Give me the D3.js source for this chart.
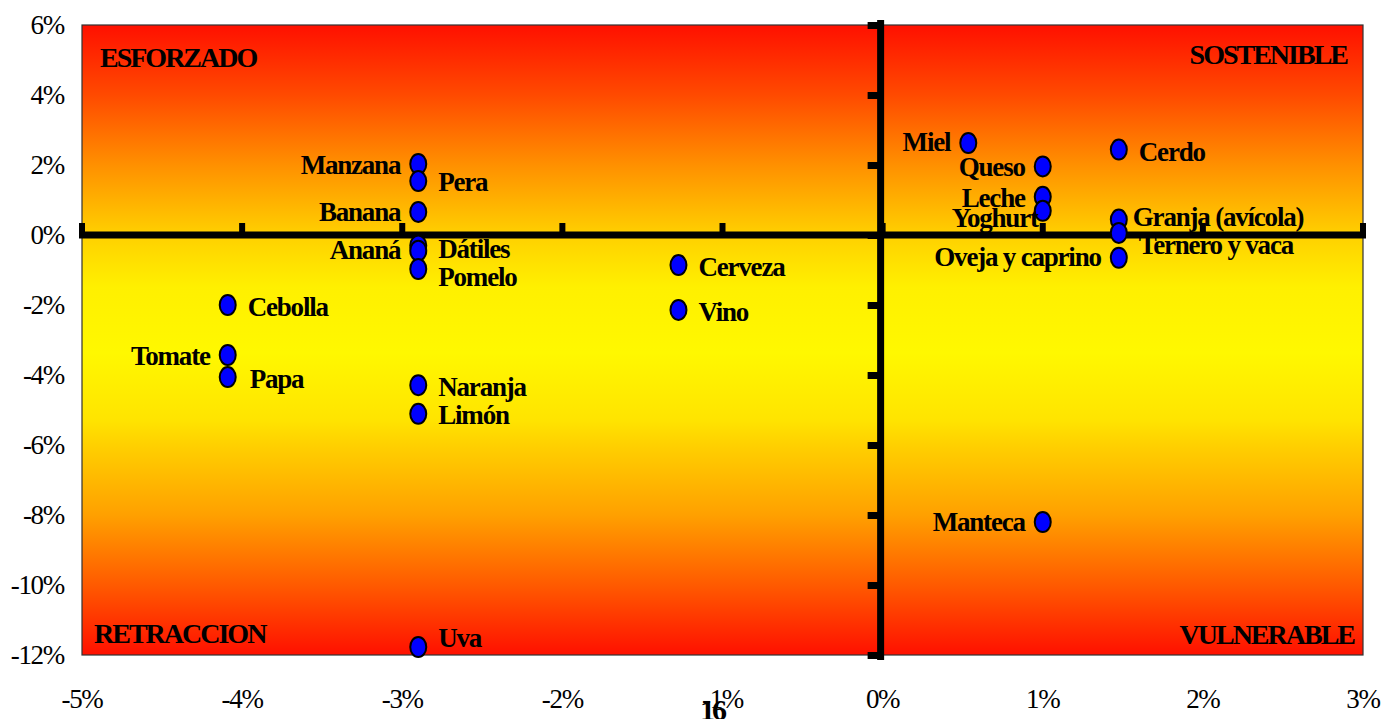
<!DOCTYPE html>
<html><head><meta charset="utf-8">
<script src="https://cdn.jsdelivr.net/npm/d3@7"></script>
<style>
html,body{margin:0;padding:0;background:#fff;}
svg{display:block;font-family:"Liberation Serif","Times New Roman",serif;}
</style></head>
<body>
<svg id="chart" width="1385" height="719"></svg>
<script>
// ---- data ----
const names = ["Manzana","Pera","Banana","Ananá","Dátiles","Pomelo","Cebolla","Tomate","Papa","Naranja","Limón","Uva","Cerveza","Vino","Miel","Queso","Leche","Yoghurt","Cerdo","Granja (avícola)","Ternero y vaca","Oveja y caprino","Manteca"];
const xValues = [-0.029,-0.029,-0.029,-0.029,-0.029,-0.029,-0.0409,-0.0409,-0.0409,-0.029,-0.029,-0.029,-0.01275,-0.01275,0.00535,0.01,0.01,0.01,0.01475,0.01475,0.01475,0.01475,0.01];
const yValues = [0.0203,0.0154,0.0066,-0.003,-0.0045,-0.0097,-0.02,-0.0343,-0.0406,-0.0429,-0.0511,-0.1177,-0.0086,-0.0214,0.0263,0.0196,0.0109,0.0069,0.0244,0.0044,0.0006,-0.0065,-0.082];
const xTicks = [-0.05,-0.04,-0.03,-0.02,-0.01,0,0.01,0.02,0.03];
const yTicks = [0.06,0.04,0.02,0,-0.02,-0.04,-0.06,-0.08,-0.10,-0.12];
const quadrantLabels = ["ESFORZADO","SOSTENIBLE","RETRACCION","VULNERABLE"];
const pageNumber = "16";

// ---- layout ----
const svg = d3.select("#chart");
const x = d3.scaleLinear().domain([-0.05,0.03]).range([82,1363]);
const y = d3.scaleLinear().domain([-0.12,0.06]).range([655,25]);
const fmt = d3.format(".0%");

// gradient background (red - yellow - red)
const defs = svg.append("defs");
const grad = defs.append("linearGradient").attr("id","bg").attr("x1",0).attr("y1",0).attr("x2",0).attr("y2",1);
[[0,"#ff1000"],[0.111,"#ff4a00"],[0.222,"#ff9000"],[0.333,"#ffd000"],[0.416,"#fff000"],
 [0.52,"#fff800"],[0.627,"#ffe400"],[0.667,"#ffd000"],[0.778,"#ffa000"],[0.889,"#ff5a00"],[1,"#ff1000"]]
 .forEach(s=>grad.append("stop").attr("offset",s[0]).attr("stop-color",s[1]));

svg.append("rect")
  .attr("x",x(-0.05)).attr("y",y(0.06))
  .attr("width",x(0.03)-x(-0.05)).attr("height",y(-0.12)-y(0.06))
  .attr("fill","url(#bg)").attr("stroke","#333").attr("stroke-width",1.2);

// quadrant labels
const qStyle = s => s.attr("font-weight","bold").attr("font-size","28px").attr("letter-spacing","-2px").attr("fill","#000");
svg.append("text").text(quadrantLabels[0]).attr("x",100).attr("y",y(0.06)+42).call(qStyle);
svg.append("text").text(quadrantLabels[1]).attr("x",x(0.03)-16).attr("y",y(0.06)+39).attr("text-anchor","end").call(qStyle);
svg.append("text").text(quadrantLabels[2]).attr("x",94).attr("y",y(-0.12)-12).call(qStyle);
svg.append("text").text(quadrantLabels[3]).attr("x",x(0.03)-9).attr("y",y(-0.12)-11).attr("text-anchor","end").call(qStyle);

// crossing axes
const x0 = x(0)-2, y0 = y(0);
svg.append("line").attr("x1",x(-0.05)-3).attr("x2",x(0.03)+3).attr("y1",y0).attr("y2",y0)
  .attr("stroke","#000").attr("stroke-width",7);
svg.selectAll(".xt").data(xTicks).enter().append("rect")
  .attr("x",d=>x(d)-3).attr("y",y0-12).attr("width",6).attr("height",14).attr("fill","#000");
svg.append("line").attr("x1",x0).attr("x2",x0).attr("y1",y(0.06)-5).attr("y2",y(-0.12)+5)
  .attr("stroke","#000").attr("stroke-width",7);
svg.selectAll(".yt").data(yTicks).enter().append("rect")
  .attr("x",x0-13).attr("y",d=>y(d)-3).attr("width",13).attr("height",7).attr("fill","#000");

// axis tick labels
svg.selectAll(".yl").data(yTicks).enter().append("text")
  .attr("x",64).attr("y",d=>y(d)+9).attr("text-anchor","end")
  .attr("font-size","27px").attr("letter-spacing","-1.3px").attr("fill","#000")
  .text(d=>fmt(d).replace("−","-"));
svg.selectAll(".xl").data(xTicks).enter().append("text")
  .attr("x",d=>x(d)).attr("y",708).attr("text-anchor","middle")
  .attr("font-size","27px").attr("letter-spacing","-1.3px").attr("fill","#000")
  .text(d=>fmt(d).replace("−","-"));

// page number (overlaps the -1% label, as in the original page)
svg.append("text").text(pageNumber).attr("x",700).attr("y",720)
  .attr("font-weight","bold").attr("font-size","30px").attr("letter-spacing","-3px").attr("fill","#000");

// points
const pts = names.map((n,i)=>({name:n,x:xValues[i],y:yValues[i]}));
svg.selectAll(".pt").data(pts).enter().append("ellipse")
  .attr("cx",d=>x(d.x)).attr("cy",d=>y(d.y)).attr("rx",8).attr("ry",10)
  .attr("fill","#0000ff").attr("stroke","#000").attr("stroke-width",2);

// label placement: [side, dx, dy]
const place = {
 "Manzana":["L",-18,10],"Pera":["R",20,10],"Banana":["L",-18,9],"Ananá":["L",-18,13],
 "Dátiles":["R",20,7],"Pomelo":["R",20,17],"Cebolla":["R",20,11],"Tomate":["L",-18,10],
 "Papa":["R",22,11],"Naranja":["R",20,11],"Limón":["R",20,10],"Uva":["R",20,0],
 "Cerveza":["R",20,11],"Vino":["R",20,11],"Miel":["L",-18,8],"Queso":["L",-18,10],
 "Leche":["L",-18,10],"Yoghurt":["L",-5,16],"Cerdo":["R",20,11],"Granja (avícola)":["R",14,6],
 "Ternero y vaca":["R",20,21],"Oveja y caprino":["L",-18,8],"Manteca":["L",-18,9]
};
svg.selectAll(".lb").data(pts).enter().append("text")
  .attr("x",d=>x(d.x)+place[d.name][1]).attr("y",d=>y(d.y)+place[d.name][2])
  .attr("text-anchor",d=>place[d.name][0]==="L"?"end":"start")
  .attr("font-weight","bold").attr("font-size","27px").attr("letter-spacing","-1.2px").attr("fill","#000")
  .text(d=>d.name);
</script>
</body></html>
